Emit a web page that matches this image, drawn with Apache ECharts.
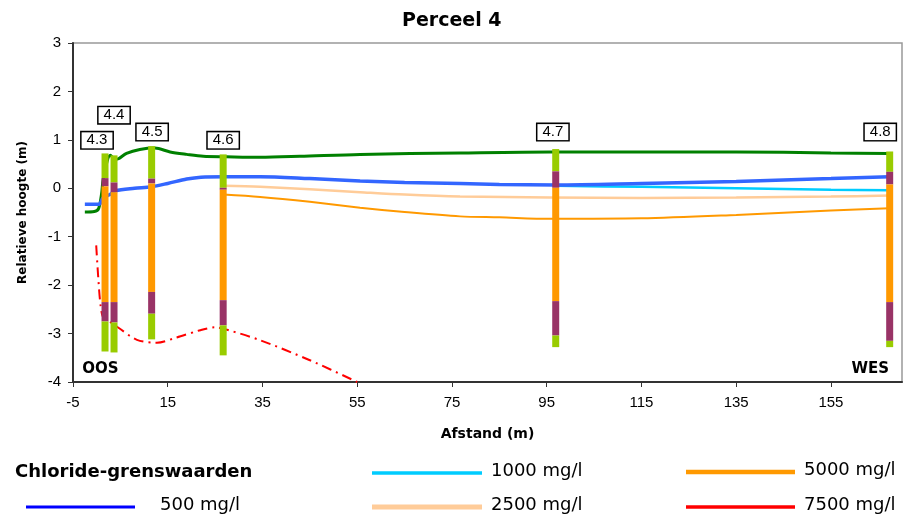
<!DOCTYPE html>
<html>
<head>
<meta charset="utf-8">
<script src="https://cdn.jsdelivr.net/npm/echarts@6/dist/echarts.min.js"></script>
<style>
  html, body { margin: 0; padding: 0; background: #fff; }
  #chart { width: 905px; height: 517px; }
</style>
</head>
<body>
<div id="chart"></div>
<script>
// assen
const xTicks = [-5, 15, 35, 55, 75, 95, 115, 135, 155]
const yTicks = [-4, -3, -2, -1, 0, 1, 2, 3]

// lijnen [afstand, hoogte]
const maaiveld = [[-2.5, -0.49], [-0.5, -0.48], [0.4, -0.42], [1.05, -0.1], [1.4, 0.2], [2.9, 0.68], [3.9, 0.6], [4.6, 0.61], [6.3, 0.72], [9.1, 0.8], [12.3, 0.83], [15.5, 0.75], [19, 0.7], [22.5, 0.66], [27.4, 0.65], [34.5, 0.64], [42.9, 0.66], [55.6, 0.7], [76.7, 0.73], [95.7, 0.75], [115, 0.75], [135, 0.75], [155, 0.73], [167.4, 0.72]]
const grens500 = [[-2.5, -0.33], [0.5, -0.33], [1.3, -0.2], [2.8, -0.13], [4, -0.05], [8, 0.0], [11.5, 0.03], [15, 0.1], [19, 0.19], [22, 0.23], [27, 0.24], [34.5, 0.24], [45, 0.2], [55.6, 0.15], [65, 0.12], [76.7, 0.1], [85, 0.08], [97, 0.07], [115, 0.1], [135, 0.14], [155, 0.2], [167.4, 0.24]]
const grens1000 = [[97, 0.05], [115, 0.03], [135, 0.0], [155, -0.03], [167.4, -0.04]]
const grens2500 = [[26.7, 0.05], [34.5, 0.03], [45, -0.02], [55.6, -0.08], [65, -0.13], [76.7, -0.17], [95.7, -0.19], [115, -0.2], [135, -0.19], [155, -0.17], [167.4, -0.15]]
const grens5000 = [[26.7, -0.13], [34.5, -0.18], [45, -0.28], [55.6, -0.4], [65, -0.49], [76.7, -0.58], [85, -0.6], [95.7, -0.63], [115, -0.62], [135, -0.55], [155, -0.46], [167.4, -0.41]]
const grens7500 = [[-0.1, -1.18], [0.3, -1.8], [0.8, -2.4], [1.4, -2.68], [2.8, -2.76], [4.6, -2.88], [8.5, -3.13], [12.7, -3.19], [16.9, -3.08], [21.9, -2.93], [25, -2.87], [27.5, -2.92], [34.6, -3.14], [45, -3.55], [55, -4.0]]

// boringen
const boreNames = ['4.3', '4.4', '4.5', '4.6', '4.7', '4.8']
const boreX = [1.76, 3.66, 11.6, 26.7, 96.9, 167.4]
const boreLayers = [
  [0.72, 0.21, 0.04, -2.35, -2.75, -3.37],
  [0.68, 0.12, -0.08, -2.35, -2.77, -3.39],
  [0.87, 0.2, 0.1, -2.14, -2.59, -3.12],
  [0.7, 0.01, -0.03, -2.31, -2.83, -3.45],
  [0.81, 0.35, 0.01, -2.33, -3.04, -3.28],
  [0.76, 0.34, 0.08, -2.35, -3.15, -3.28]
]
const labelX = [0.07, 3.66, 11.7, 26.7, 96.3, 165.4]
const labelY = [0.99, 1.51, 1.16, 0.99, 1.16, 1.16]
const layerColors = ['#99CC00', '#993366', '#FF9900', '#993366', '#99CC00']

const sideNames = ['OOS', 'WES']
const sideX = [0.8, 163.3]
const sideY = [-3.74, -3.74]

// legenda
const legendTitle = 'Chloride-grenswaarden'
const legendNames = ['500 mg/l', '1000 mg/l', '2500 mg/l', '5000 mg/l', '7500 mg/l']
const legendColors = ['#0000FF', '#00CCFF', '#FFCC99', '#FF9900', '#FF0000']

const chart = echarts.init(document.getElementById('chart'))

const boreData = []
boreLayers.forEach((layers, i) => {
  for (let j = 0; j < layers.length - 1; j++) {
    boreData.push([boreX[i], layers[j], layers[j + 1], j])
  }
})

// legenda-plaatsing: [lijn x1, lijn x2, y, tekst x, lijndikte]
const legendPos = [
  [26, 135, 507, 160, 3],
  [372, 482, 473, 491, 3.5],
  [372, 482, 507, 491, 5],
  [686, 795, 472, 804, 4.5],
  [686, 795, 507, 804, 3.5]
]
const legendGraphic = [{
  type: 'text', left: 15, top: 463,
  style: { text: legendTitle, font: 'bold 18px "DejaVu Sans"', fill: '#000' }
}]
legendNames.forEach((name, i) => {
  const p = legendPos[i]
  legendGraphic.push({
    type: 'line',
    shape: { x1: p[0], y1: p[2], x2: p[1], y2: p[2] },
    style: { stroke: legendColors[i], lineWidth: p[4] }
  })
  legendGraphic.push({
    type: 'text', x: p[3], y: p[2] - 2,
    style: { text: name, font: '18px "DejaVu Sans"', fill: '#000', verticalAlign: 'middle' }
  })
})

const lineSeries = (data, color, width, type) => ({
  type: 'line',
  data: data,
  smooth: 0.3,
  showSymbol: false,
  symbol: 'none',
  silent: true,
  lineStyle: { color: color, width: width, type: type || 'solid' },
  z: 2
})

const labelSeries = (data, label) => ({
  type: 'scatter',
  silent: true,
  z: 6,
  symbolSize: 0,
  itemStyle: { color: '#000', opacity: 1 },
  data: data,
  label: Object.assign({ show: true, position: 'inside', formatter: '{b}', color: '#000' }, label)
})

const option = {
  backgroundColor: '#fff',
  animation: false,
  title: {
    text: 'Perceel 4',
    left: 397,
    top: 7,
    textStyle: { fontFamily: 'DejaVu Sans', fontWeight: 'bold', fontSize: 19, color: '#000' }
  },
  grid: {
    left: 73,
    right: 3,
    top: 43,
    bottom: 135,
    show: true,
    borderColor: '#999',
    borderWidth: 1.5
  },
  xAxis: {
    type: 'value',
    min: -5,
    max: 170,
    name: 'Afstand (m)',
    nameLocation: 'middle',
    nameGap: 45,
    nameTextStyle: { fontFamily: 'DejaVu Sans', fontWeight: 'bold', fontSize: 14, color: '#000' },
    axisLine: { onZero: false, lineStyle: { color: '#333', width: 2 } },
    axisTick: { show: true, length: 5, customValues: xTicks, lineStyle: { color: '#333' } },
    axisLabel: { customValues: xTicks, margin: 13, fontFamily: 'Liberation Sans', fontSize: 15, color: '#000' },
    splitLine: { show: false }
  },
  yAxis: {
    type: 'value',
    min: -4,
    max: 3,
    interval: 1,
    name: 'Relatieve hoogte (m)',
    nameLocation: 'middle',
    nameGap: 44,
    nameTextStyle: { fontFamily: 'DejaVu Sans', fontWeight: 'bold', fontSize: 12, color: '#000' },
    axisLine: { show: true, onZero: false, lineStyle: { color: '#333', width: 2 } },
    axisTick: { show: true, length: 5, customValues: yTicks, lineStyle: { color: '#333' } },
    axisLabel: { customValues: yTicks, margin: 12, fontFamily: 'Liberation Sans', fontSize: 15, color: '#000' },
    splitLine: { show: false }
  },
  series: [
    lineSeries(maaiveld, '#008000', 3),
    lineSeries(grens2500, '#FFCC99', 2.5),
    lineSeries(grens5000, '#FF9900', 2),
    lineSeries(grens1000, '#00CCFF', 2.5),
    lineSeries(grens500, '#3366FF', 3.5),
    lineSeries(grens7500, '#FF0000', 2, [10, 5, 2, 5]),
    {
      type: 'custom',
      silent: true,
      z: 5,
      data: boreData,
      renderItem: (params, api) => {
        const x = api.value(0)
        const top = api.coord([x, api.value(1)])
        const bot = api.coord([x, api.value(2)])
        return {
          type: 'rect',
          shape: { x: top[0] - 3.5, y: top[1], width: 7, height: bot[1] - top[1] },
          style: { fill: layerColors[api.value(3)] }
        }
      }
    },
    labelSeries(boreNames.map((n, i) => ({ name: n, value: [labelX[i], labelY[i]] })), {
      fontFamily: 'Liberation Sans',
      fontSize: 15,
      backgroundColor: '#fff',
      borderColor: '#000',
      borderWidth: 1.5,
      padding: [1, 5, 0, 5]
    }),
    labelSeries(sideNames.map((n, i) => ({ name: n, value: [sideX[i], sideY[i]] })), {
      fontFamily: 'DejaVu Sans',
      fontWeight: 'bold',
      fontSize: 15
    })
  ],
  graphic: legendGraphic
}

chart.setOption(option)
</script>
</body>
</html>
